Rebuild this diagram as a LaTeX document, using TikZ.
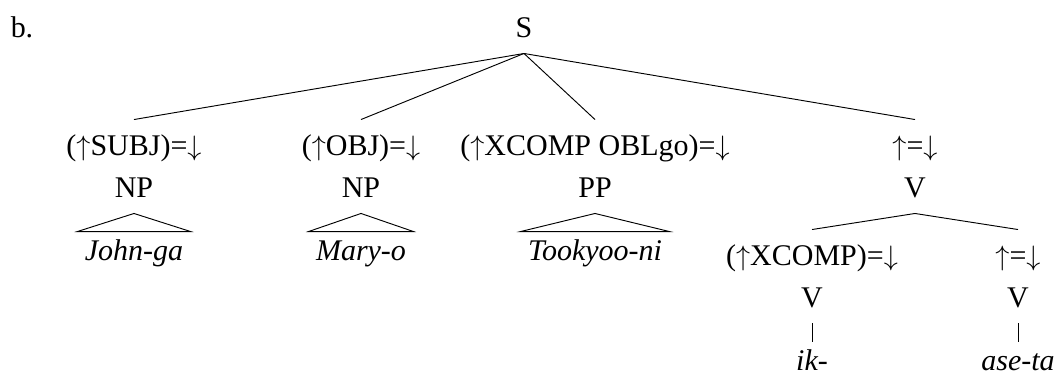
\documentclass[tikz,border=0pt]{standalone}
\usepackage{fontspec}
\setmainfont{Liberation Serif}
\usetikzlibrary{positioning}
\newcommand\treesize{\fontsize{12.8}{15}\selectfont}
\newcommand\up{$\uparrow$}
\newcommand\down{$\downarrow$}

\begin{document}
\begin{tikzpicture}[on grid, thin,
every node/.style={font=\treesize, inner xsep=0pt, text height=0.285cm, text depth=0pt},
ann/.style={inner ysep=0.24cm}, cat/.style={inner ysep=0.24cm},
word/.style={font=\treesize\itshape, inner xsep=0.105cm, inner ysep=0.135cm}]
\useasboundingbox (0,0) rectangle (15.87,-5.625);
\node [cat] (s) at (7.86,-0.4125) {S};
\node (ex) [left=7.53cm of s] {b.};

\node [ann] (subj) [below left=1.77cm and 5.85cm of s] {(\up SUBJ)=\down};
\node [ann] (obj) [below left=1.77cm and 2.445cm of s] {(\up OBJ)=\down};
\node [ann] (obl) [below right=1.77cm and 1.065cm of s] {(\up XCOMP OBLgo)=\down};
\node [ann] (head) [below right=1.77cm and 5.865cm of s] {\up=\down};

\node [cat] (np_1) [below=0.63cm of subj] {NP};
\node [cat] (np_2) [below=0.63cm of obj] {NP};
\node [cat] (pp) [below=0.63cm of obl] {PP};
\node [cat] (v) [below=0.63cm of head] {V};

\node [word] (john) [below=0.945cm of np_1] {John-ga};
\node [word] (mary) [below=0.945cm of np_2] {Mary-o};
\node [word] (tokyo) [below=0.945cm of pp] {Tookyoo-ni};

\node [ann] (xcomp) [below left=1.02cm and 1.545cm of v] {(\up XCOMP)=\down};
\node [ann] (vhead) [below right=1.02cm and 1.545cm of v] {\up=\down};
\node [cat] (v_1) [below=0.63cm of xcomp] {V};
\node [cat] (v_2) [below=0.63cm of vhead] {V};
\node [word] (ik) [below=0.95cm of v_1] {ik-};
\node [word] (ase) [below=0.95cm of v_2] {ase-ta};

\path (s.south) edge (subj.north)
edge (obj.north)
edge (obl.north)
edge (head.north);
\path (v.south) edge (xcomp.north)
edge (vhead.north);

% triangles over the unanalysed phrases
\draw (np_1.south) -- (john.north west) -- (john.north east) -- cycle;
\draw (np_2.south) -- (mary.north west) -- (mary.north east) -- cycle;
\draw (pp.south) -- (tokyo.north west) -- (tokyo.north east) -- cycle;

\draw (v_1.south) -- (ik.north);
\draw (v_2.south) -- (ase.north);
\end{tikzpicture}
\end{document}
